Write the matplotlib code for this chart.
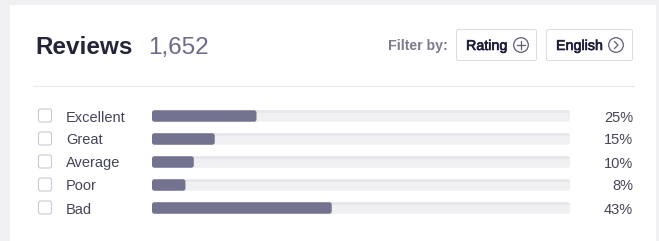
import matplotlib
matplotlib.use("Agg")
import matplotlib.pyplot as plt
from matplotlib.patches import FancyBboxPatch, Rectangle, Circle
from matplotlib import transforms
import matplotlib.patheffects as pe

plt.rcParams['font.family'] = ['Liberation Sans', 'DejaVu Sans']

# ---- data ----
title = "Reviews"
total_reviews = "1,652"
categories = ["Excellent", "Great", "Average", "Poor", "Bad"]
percentages = [25, 15, 10, 8, 43]
filter_label = "Filter by:"
filter_buttons = ["Rating", "English"]

W, H = 659, 241
fig = plt.figure(figsize=(W / 100, H / 100), dpi=100)
fig.patch.set_facecolor("#f0f0f3")

# pixel-space axes for layout/decoration
px = fig.add_axes([0, 0, 1, 1], zorder=0)
px.set_xlim(0, W)
px.set_ylim(H, 0)
px.axis("off")

# white card
px.add_patch(Rectangle((10, 5), 646, 250, facecolor="white", edgecolor="none"))

# header
px.text(35, 54, title, fontsize=17.5, fontweight="bold", color="#24243a", va="baseline")
px.text(148, 54, total_reviews, fontsize=17.5, color="#6c6b8a", va="baseline")
px.text(448, 50, filter_label, fontsize=10.2, fontweight="bold", color="#7c7c8e",
        va="baseline", ha="right")

btn_boxes = [(456, 537), (546, 633)]
for (x0, x1), lab in zip(btn_boxes, filter_buttons):
    px.add_patch(FancyBboxPatch((x0 + 0.5, 29.5), x1 - x0 - 1, 31,
                                boxstyle="round,pad=0,rounding_size=2",
                                facecolor="white", edgecolor="#dcdce4", lw=0.75))
    px.text(x0 + 10, 50, lab, fontsize=10.3, color="#1b1b3a", va="baseline",
            path_effects=[pe.withStroke(linewidth=0.45, foreground="#1b1b3a")])

# icons
ic = "#5e5e78"
px.add_patch(Circle((521, 45), 7.3, facecolor="none", edgecolor=ic, lw=0.9))
px.plot([517, 525], [45, 45], color=ic, lw=0.9)
px.plot([521, 521], [41, 49], color=ic, lw=0.9)
px.add_patch(Circle((616, 45), 7.3, facecolor="none", edgecolor=ic, lw=0.9))
px.plot([614.5, 618, 614.5], [41.5, 45, 48.5], color=ic, lw=0.9)

# separator
px.plot([34, 634], [85.5, 85.5], color="#ebebef", lw=0.9)

# ---- bar axes ----
row_h = 23
top_center = 116
track_left, track_w = 152, 418
ax_top = top_center - row_h / 2
ax_bottom = top_center + row_h * (len(categories) - 0.5)
ax = fig.add_axes([track_left / W, 1 - ax_bottom / H, track_w / W, (ax_bottom - ax_top) / H],
                  zorder=1)
ax.set_xlim(0, 100)
ax.set_ylim(len(categories) - 0.5, -0.5)
ax.axis("off")
ax.patch.set_alpha(0)

ypos = list(range(len(categories)))
bar_h = 11.5 / row_h
px_per_x = track_w / 100
aspect = (1 / row_h) / (1 / px_per_x)
rr = 2.5 / px_per_x

tracks = ax.barh(ypos, [100] * len(categories), height=bar_h, color="#f0f0f3")
fills = ax.barh(ypos, percentages, height=bar_h, color="#73728f")


def roundify(bars, color, z):
    out = []
    for b in bars:
        b.set_visible(False)
        p = FancyBboxPatch((b.get_x(), b.get_y()), b.get_width(), b.get_height(),
                           boxstyle=f"round,pad=0,rounding_size={rr}",
                           mutation_aspect=aspect, facecolor=color, edgecolor="none",
                           zorder=z)
        ax.add_patch(p)
        out.append(p)
    return out


track_patches = roundify(tracks, "#f0f0f3", 1)
for b, tp in zip(tracks, track_patches):
    stripe = Rectangle((b.get_x(), b.get_y()), b.get_width(), 3 / row_h,
                       facecolor="#e6e6eb", edgecolor="none", zorder=1.5)
    ax.add_patch(stripe)
    stripe.set_clip_path(tp)
roundify(fills, "#73728f", 2)

# labels, checkboxes, percentages (x in pixels, y in row units)
blend = transforms.blended_transform_factory(px.transData, ax.transData)
for i, (cat, pct) in enumerate(zip(categories, percentages)):
    ax.text(66, i, cat, transform=blend, fontsize=10.5, color="#45455a",
            va="center_baseline", ha="left")
    ax.text(633, i, f"{pct}%", transform=blend, fontsize=10.5, color="#45455a",
            va="center_baseline", ha="right")
    cy = top_center + row_h * i - 0.5
    px.add_patch(FancyBboxPatch((38.5, cy - 6.5), 13, 13,
                                boxstyle="round,pad=0,rounding_size=2",
                                facecolor="white", edgecolor="#c9c9d8", lw=0.8))

fig.savefig("out.png", dpi=100, facecolor=fig.get_facecolor())
